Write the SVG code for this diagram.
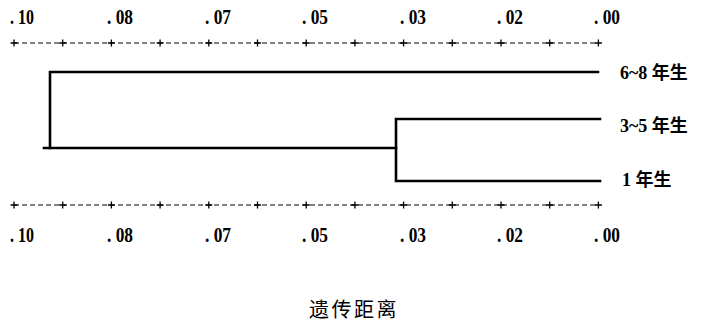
<svg xmlns="http://www.w3.org/2000/svg" width="707" height="325" viewBox="0 0 707 325">
<defs>
<style>
.ax{stroke:#000;stroke-width:1;stroke-dasharray:5,3;fill:none}
.tk{stroke:#000;stroke-width:1.3;fill:none}
.num{font-family:"Liberation Serif","Times New Roman",serif;font-weight:bold;font-size:20.5px;fill:#000}
.lab{font-family:"Liberation Serif","Noto Sans CJK SC",serif;font-weight:bold;font-size:18px;fill:#000}
.ttl{font-family:"Noto Sans CJK SC",sans-serif;font-size:20px;letter-spacing:2.5px;fill:#000}
.br{stroke:#000;stroke-width:2.6;fill:none;stroke-linecap:square}
</style>
<path id="plus" d="M-3.5,0H3.5M0,-3.5V3.5" class="tk"/>
</defs>
<g id="top-axis">
<line x1="14" y1="43" x2="598" y2="43" class="ax"/>
<use href="#plus" x="14" y="43"/><use href="#plus" x="62.7" y="43"/><use href="#plus" x="111.4" y="43"/><use href="#plus" x="160.1" y="43"/><use href="#plus" x="208.8" y="43"/><use href="#plus" x="257.5" y="43"/><use href="#plus" x="306.2" y="43"/><use href="#plus" x="354.9" y="43"/><use href="#plus" x="403.6" y="43"/><use href="#plus" x="452.3" y="43"/><use href="#plus" x="501" y="43"/><use href="#plus" x="549.7" y="43"/><use href="#plus" x="598.4" y="43"/>
<text class="num" x="10" y="24" textLength="24" lengthAdjust="spacingAndGlyphs">. 10</text>
<text class="num" x="107" y="24" textLength="26" lengthAdjust="spacingAndGlyphs">. 08</text>
<text class="num" x="205" y="24" textLength="26" lengthAdjust="spacingAndGlyphs">. 07</text>
<text class="num" x="302" y="24" textLength="26" lengthAdjust="spacingAndGlyphs">. 05</text>
<text class="num" x="400" y="24" textLength="26" lengthAdjust="spacingAndGlyphs">. 03</text>
<text class="num" x="497" y="24" textLength="26" lengthAdjust="spacingAndGlyphs">. 02</text>
<text class="num" x="594" y="24" textLength="26" lengthAdjust="spacingAndGlyphs">. 00</text>
</g>
<g id="bottom-axis">
<line x1="14" y1="205" x2="598" y2="205" class="ax"/>
<use href="#plus" x="14" y="205"/><use href="#plus" x="62.7" y="205"/><use href="#plus" x="111.4" y="205"/><use href="#plus" x="160.1" y="205"/><use href="#plus" x="208.8" y="205"/><use href="#plus" x="257.5" y="205"/><use href="#plus" x="306.2" y="205"/><use href="#plus" x="354.9" y="205"/><use href="#plus" x="403.6" y="205"/><use href="#plus" x="452.3" y="205"/><use href="#plus" x="501" y="205"/><use href="#plus" x="549.7" y="205"/><use href="#plus" x="598.4" y="205"/>
<text class="num" x="10" y="242" textLength="24" lengthAdjust="spacingAndGlyphs">. 10</text>
<text class="num" x="107" y="242" textLength="26" lengthAdjust="spacingAndGlyphs">. 08</text>
<text class="num" x="205" y="242" textLength="26" lengthAdjust="spacingAndGlyphs">. 07</text>
<text class="num" x="302" y="242" textLength="26" lengthAdjust="spacingAndGlyphs">. 05</text>
<text class="num" x="400" y="242" textLength="26" lengthAdjust="spacingAndGlyphs">. 03</text>
<text class="num" x="497" y="242" textLength="26" lengthAdjust="spacingAndGlyphs">. 02</text>
<text class="num" x="594" y="242" textLength="26" lengthAdjust="spacingAndGlyphs">. 00</text>
</g>
<g id="connectors">
<polyline class="br" points="598,72 50,72 50,148"/>
<line class="br" x1="44" y1="148" x2="396" y2="148"/>
<polyline class="br" points="600,119 396,119 396,181 600,181"/>
</g>
<g id="node-6-8"><text class="lab" x="620" y="79">6~8 年生</text></g>
<g id="node-3-5"><text class="lab" x="620" y="132">3~5 年生</text></g>
<g id="node-1"><text class="lab" x="622" y="186">1 年生</text></g>
<g id="title"><text class="ttl" x="354" y="317" text-anchor="middle">遗传距离</text></g>
</svg>
